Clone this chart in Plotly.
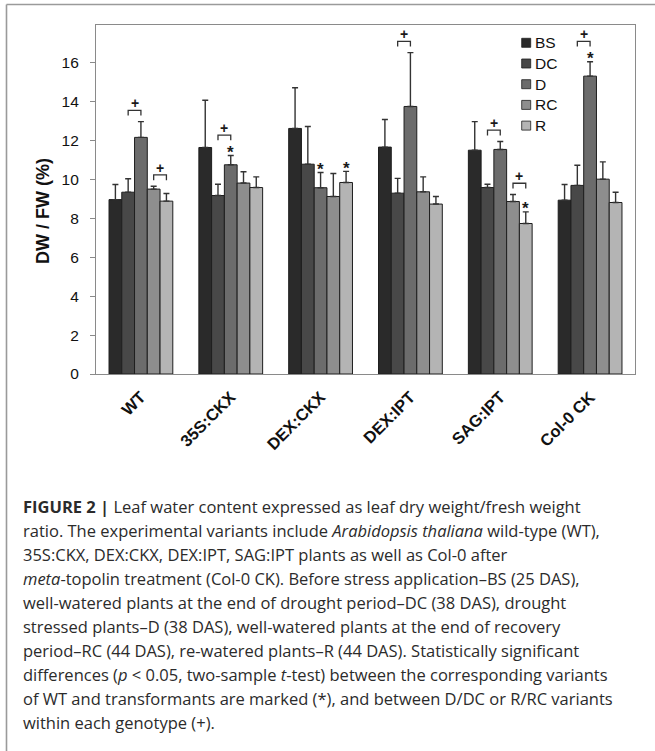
import plotly.graph_objects as go

# ---- data -------------------------------------------------------------
genotypes = ["WT", "35S:CKX", "DEX:CKX", "DEX:IPT", "SAG:IPT", "Col-0 CK"]
series = ["BS", "DC", "D", "RC", "R"]

bs_mean = [8.97, 11.65, 12.63, 11.67, 11.51, 8.94]
bs_err = [0.78, 2.43, 2.09, 1.42, 1.47, 0.81]
dc_mean = [9.35, 9.18, 10.79, 9.30, 9.59, 9.70]
dc_err = [0.69, 0.58, 1.94, 0.76, 0.17, 1.04]
d_mean = [12.17, 10.76, 9.58, 13.76, 11.55, 15.32]
d_err = [0.81, 0.48, 0.78, 2.77, 0.41, 0.74]
rc_mean = [9.51, 9.82, 9.13, 9.37, 8.87, 10.02]
rc_err = [0.15, 0.58, 1.18, 0.77, 0.36, 0.89]
r_mean = [8.89, 9.59, 9.85, 8.74, 7.74, 8.82]
r_err = [0.39, 0.55, 0.57, 0.39, 0.60, 0.53]

means = [bs_mean, dc_mean, d_mean, rc_mean, r_mean]
errors = [bs_err, dc_err, d_err, rc_err, r_err]

# significance vs WT (*): (genotype index, series index)
star_marks = [(1, 2), (2, 2), (2, 4), (4, 4), (5, 2)]
# D/DC or R/RC differences (+): (genotype index, left series, right series)
plus_marks = [(0, 1, 2), (0, 3, 4), (1, 1, 2), (3, 1, 2), (4, 1, 2), (4, 3, 4), (5, 1, 2)]

y_ticks = [0, 2, 4, 6, 8, 10, 12, 14, 16]

# ---- style ------------------------------------------------------------
colors = ["#2a2a2a", "#484848", "#6c6c6c", "#8e8e8e", "#b4b4b4"]
W, H = 655, 751
L, R, T, B = 96, 20, 25, 377
plot_w = W - L - R
plot_h = H - T - B
BARGAP = 0.29
bar_w = (1 - BARGAP) / len(series)


def px_x(px):
    return (px - L) / plot_w


def px_y(py):
    return (H - B - py) / plot_h


def bar_x(g, s):
    return g + (s - (len(series) - 1) / 2) * bar_w


fig = go.Figure()
for s, name in enumerate(series):
    fig.add_trace(go.Bar(
        name=name,
        x=list(range(len(genotypes))),
        y=means[s],
        marker=dict(color=colors[s], line=dict(color="#1e1e1e", width=1)),
        error_y=dict(type="data", symmetric=False, array=errors[s],
                     arrayminus=[0] * len(genotypes),
                     color="#333333", thickness=1.4, width=3),
        showlegend=False,
    ))

shapes = []
annotations = []

# stars above the error bars
star_top = {}
for g, s in star_marks:
    y = means[s][g] + errors[s][g] + 0.42
    star_top[(g, s)] = y
    annotations.append(dict(x=bar_x(g, s), y=y, xref="x", yref="y", text="<b>*</b>",
                            showarrow=False, yanchor="middle", yshift=-5,
                            font=dict(family="Liberation Sans", size=17, color="#1a1a1a")))

# brackets with a plus sign
for g, a, b in plus_marks:
    top = max(means[a][g] + errors[a][g], means[b][g] + errors[b][g])
    for key in [(g, a), (g, b)]:
        if key in star_top:
            top = max(top, star_top[key] + 0.05)
    yb = top + 0.58
    x0, x1 = bar_x(g, a), bar_x(g, b)
    shapes.append(dict(type="path", xref="x", yref="y",
                       path=f"M {x0} {yb - 0.27} L {x0} {yb} L {x1} {yb} L {x1} {yb - 0.27}",
                       line=dict(color="#333", width=1.3)))
    annotations.append(dict(x=(x0 + x1) / 2, y=yb, xref="x", yref="y", text="<b>+</b>",
                            showarrow=False, yanchor="bottom", yshift=-3,
                            font=dict(family="Liberation Sans", size=14, color="#1a1a1a")))

# legend drawn as squares with labels
leg_y0 = 42.8
leg_step = 20.7
for s, name in enumerate(series):
    cy = leg_y0 + s * leg_step
    shapes.append(dict(type="rect", xref="paper", yref="paper",
                       x0=px_x(521.7), x1=px_x(530.7), y0=px_y(cy + 4.5), y1=px_y(cy - 4.5),
                       fillcolor=colors[s], line=dict(color="#1e1e1e", width=0.8)))
    annotations.append(dict(x=px_x(533), y=px_y(cy), xref="paper", yref="paper", text=name,
                            showarrow=False, xanchor="left", yanchor="middle",
                            font=dict(family="Liberation Sans", size=15.5, color="#111")))

# y-axis title
annotations.append(dict(x=px_x(43), y=px_y(211), xref="paper", yref="paper",
                        text="<b>DW / FW (%)</b>", textangle=-90, showarrow=False,
                        xanchor="center", yanchor="middle",
                        font=dict(family="Liberation Sans", size=18, color="#111")))

# caption
caption = [
    "<b>FIGURE 2 |</b> Leaf water content expressed as leaf dry weight/fresh weight",
    "ratio. The experimental variants include <i>Arabidopsis thaliana</i> wild-type (WT),",
    "35S:CKX, DEX:CKX, DEX:IPT, SAG:IPT plants as well as Col-0 after",
    "<i>meta</i>-topolin treatment (Col-0 CK). Before stress application\u2013BS (25 DAS),",
    "well-watered plants at the end of drought period\u2013DC (38 DAS), drought",
    "stressed plants\u2013D (38 DAS), well-watered plants at the end of recovery",
    "period\u2013RC (44 DAS), re-watered plants\u2013R (44 DAS). Statistically significant",
    "differences (<i>p</i> &lt; 0.05, two-sample <i>t</i>-test) between the corresponding variants",
    "of WT and transformants are marked (*), and between D/DC or R/RC variants",
    "within each genotype (+).",
]
cap_y0 = 506
cap_step = 24.1
for i, line in enumerate(caption):
    annotations.append(dict(x=px_x(21), y=px_y(cap_y0 + i * cap_step), xref="paper", yref="paper",
                            text=line, showarrow=False, xanchor="left", yanchor="middle",
                            font=dict(family="Open Sans", size=16.5, color="#2b2b2b")))

# outer frame: top and left rules
shapes.append(dict(type="line", xref="paper", yref="paper",
                   x0=px_x(6.5), x1=px_x(W), y0=px_y(4.5), y1=px_y(4.5),
                   line=dict(color="#9a9a9a", width=1.6)))
shapes.append(dict(type="line", xref="paper", yref="paper",
                   x0=px_x(6.5), x1=px_x(6.5), y0=px_y(4.5), y1=px_y(H),
                   line=dict(color="#9a9a9a", width=1.6)))

fig.update_layout(
    width=W, height=H,
    margin=dict(l=L, r=R, t=T, b=B, pad=0),
    paper_bgcolor="white", plot_bgcolor="white",
    barmode="group", bargap=BARGAP, bargroupgap=0,
    shapes=shapes, annotations=annotations,
    font=dict(family="Liberation Sans", color="#111"),
)
fig.update_xaxes(
    range=[-0.5, len(genotypes) - 0.5],
    tickvals=list(range(len(genotypes))), ticktext=[f"<b>{g}</b>" for g in genotypes],
    tickangle=-45, tickfont=dict(family="Liberation Sans", size=16.5, color="#111"),
    showline=True, linecolor="#8a8a8a", linewidth=1.2, mirror=True,
    showgrid=False, zeroline=False, ticks="", ticklabelstandoff=6,
)
fig.update_yaxes(
    range=[0, 17.95], tickvals=y_ticks,
    tickfont=dict(family="Liberation Sans", size=15.5, color="#111"),
    showline=True, linecolor="#8a8a8a", linewidth=1.2, mirror=True,
    ticks="outside", ticklen=5, tickcolor="#8a8a8a", ticklabelstandoff=8,
    showgrid=False, zeroline=False,
)

fig.write_html("out.html")
